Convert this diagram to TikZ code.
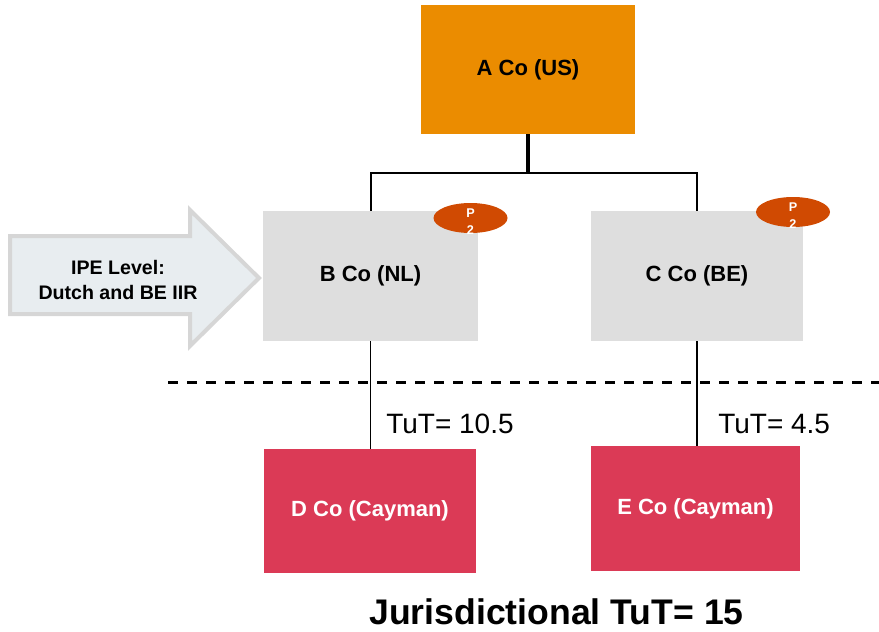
\documentclass[tikz,border=0pt]{standalone}
\usepackage{fontspec}
\setmainfont{Liberation Sans}
\usetikzlibrary{shapes.geometric}
\definecolor{pwcorange}{HTML}{EB8C00}
\definecolor{boxgray}{HTML}{DEDEDE}
\definecolor{pwcrose}{HTML}{DB3A56}
\definecolor{pwcdark}{HTML}{D04A02}
\definecolor{arrowfill}{HTML}{E8EDF0}
\definecolor{arrowline}{HTML}{D6D6D6}
\tikzset{
  entity/.style={rectangle, inner sep=0pt, font=\fontsize{16.5pt}{19pt}\selectfont\bfseries},
  topbox/.style={entity, fill=pwcorange, text=black},
  midbox/.style={entity, fill=boxgray, text=black},
  lowbox/.style={entity, fill=pwcrose, text=white},
  pbadge/.style={ellipse, fill=pwcdark, inner sep=0pt, minimum width=55.5pt, minimum height=22.5pt},
  ptext/.style={text=white, align=center, font=\fontsize{9.5pt}{12.5pt}\selectfont\bfseries, inner sep=0pt},
  link/.style={draw=black, line width=1.5pt},
  tut/.style={font=\fontsize{21pt}{24pt}\selectfont, inner sep=0pt, anchor=base west}
}
\begin{document}
\begin{tikzpicture}[x=0.75pt, y=-0.75pt]
\useasboundingbox (0,0) rectangle (879,632);
% boxes
\node[topbox, minimum width=160.5pt, minimum height=96.75pt] (A) at (528,69.5) {A Co (US)};
\node[midbox, minimum width=161.25pt, minimum height=97.5pt] (B) at (370.5,276) {B Co (NL)};
\node[midbox, minimum width=159pt, minimum height=97.5pt] (C) at (697,276) {C Co (BE)};
\node[lowbox, minimum width=159pt, minimum height=93pt] (D) at (370,511) {D Co (Cayman)};
\node[lowbox, minimum width=156.75pt, minimum height=93.75pt] (E) at (695.5,508.5) {E Co (Cayman)};
% connectors
\coordinate (hub) at (528,173);
\draw[black, line width=3pt] (A.south) -- (hub);
\draw[link] (B.north) |- (hub) -| (C.north);
\draw[link, line width=1.2pt] (B.south) -- (B.south |- D.north);
\draw[link, line width=1.2pt] (C.south) -- (C.south |- E.north);
% badges
\node[pbadge] (pb1) at (470.5,218) {};
\node[ptext] (pt1) at (470.5,221.5) {P\\2};
\node[pbadge] (pb2) at (793,212) {};
\node[ptext] (pt2) at (793,215.5) {P\\2};
% dashed separator
\coordinate (dl1) at (168,382);
\coordinate (dl2) at (879,382);
\draw[black, line width=2.25pt, dash pattern=on 7.5pt off 6.75pt] (dl1) -- (dl2);
% TuT labels
\node[tut] (t1) at (386,433) {TuT= 10.5};
\node[tut] (t2) at (718,433) {TuT= 4.5};
% arrow
\draw[draw=arrowline, fill=arrowfill, line width=3pt, line join=miter]
  (10,236) -- (190,236) -- (190,210) -- (259,278) -- (190,346) -- (190,314) -- (10,314) -- cycle;
\node[align=center, inner sep=0pt, font=\fontsize{14.7pt}{18.75pt}\selectfont\bfseries] (ipe) at (118,280) {IPE Level:\\Dutch and BE IIR};
% footer
\node[anchor=base, inner sep=0pt, font=\fontsize{26.7pt}{30pt}\selectfont\bfseries] (jur) at (556.5,624) {Jurisdictional TuT= 15};
\end{tikzpicture}
\end{document}
